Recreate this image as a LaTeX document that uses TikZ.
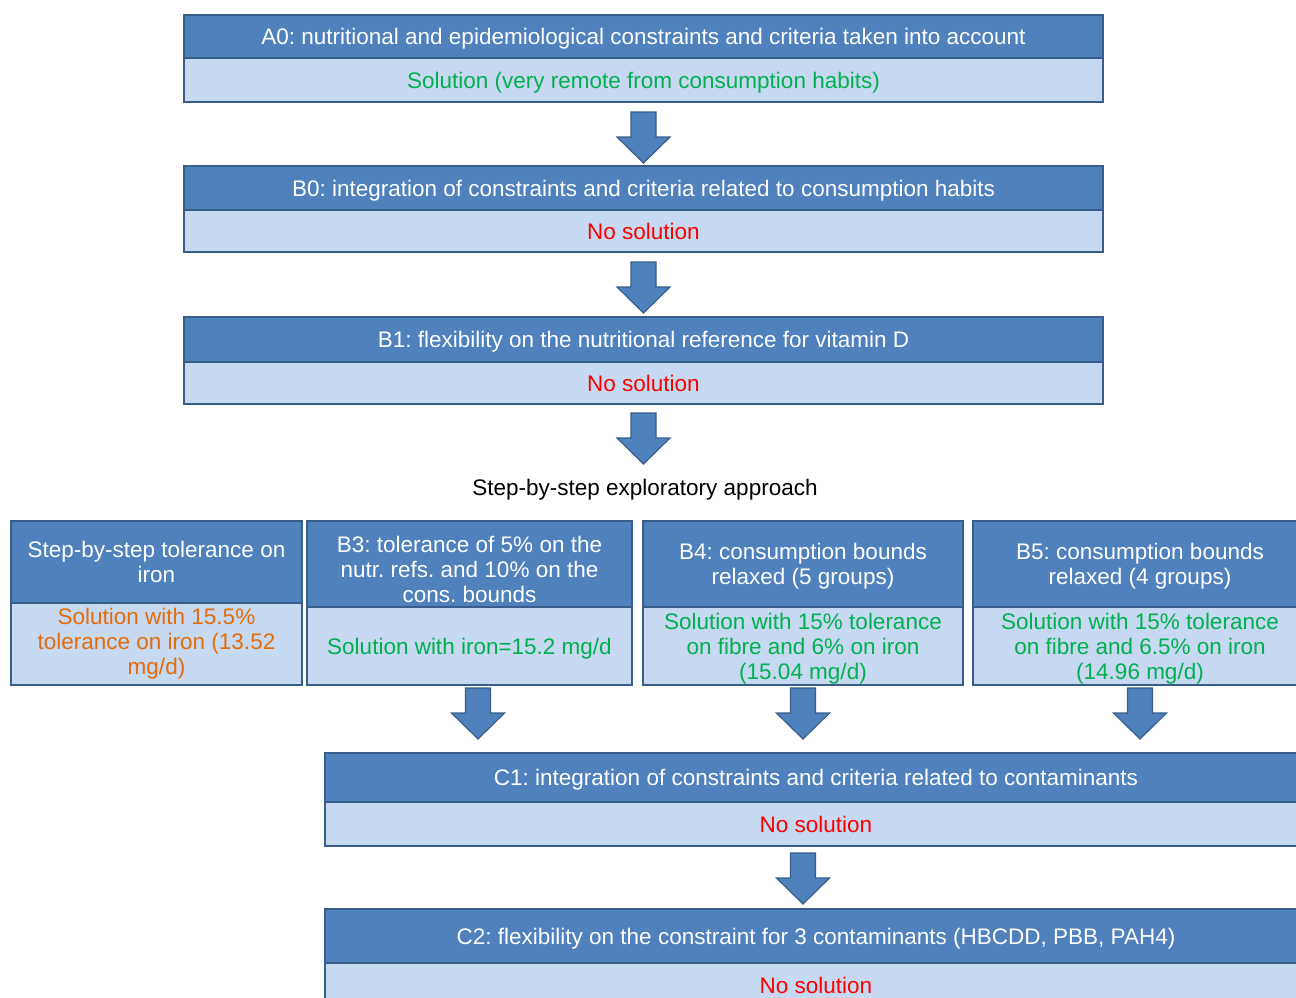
\documentclass[tikz,border=0pt]{standalone}
\usepackage{fontspec}
\setmainfont{Liberation Sans}
\usetikzlibrary{calc}
\definecolor{hdrfill}{HTML}{4F81BD}
\definecolor{bodyfill}{HTML}{C6D9F1}
\definecolor{boxline}{HTML}{385D8A}
\definecolor{okgreen}{HTML}{00B050}
\definecolor{nored}{HTML}{FF0000}
\definecolor{partorange}{HTML}{E46C0A}
\frenchspacing
\begin{document}
\begin{tikzpicture}[x=1pt,y=-1pt,
  every node/.style={font=\fontsize{22.5}{25}\selectfont, align=center, inner sep=0pt, outer sep=0pt},
  hdr/.style={draw=boxline, fill=hdrfill, line width=1.5pt, text=white, text depth=0pt, anchor=north west},
  body/.style={draw=boxline, fill=bodyfill, line width=1.5pt, anchor=north},
  frame/.style={draw=boxline, line width=2.5pt},
  blockarrow/.pic={
    \filldraw[fill=hdrfill, draw=boxline, line width=1.2pt, line join=miter]
      (-12.5,0) -- (12.5,0) -- (12.5,25) -- (26.5,25) -- (0,51)
      -- (-26.5,25) -- (-12.5,25) -- cycle;
  }
]
\useasboundingbox (0,0) rectangle (1296,998);
\clip (0,0) rectangle (1296,998);

% A0
\node[hdr, minimum width=919pt, minimum height=43pt] (A0h) at (184,15)
  {A0: nutritional and epidemiological constraints and criteria taken into account};
\node[body, minimum width=919pt, minimum height=44pt, text=okgreen, text depth=0pt] (A0b) at (A0h.south)
  {Solution (very remote from consumption habits)};
\draw[frame] (A0h.north west) rectangle (A0b.south east);

% B0
\node[hdr, minimum width=919pt, minimum height=44pt] (B0h) at (184,166)
  {B0: integration of constraints and criteria related to consumption habits};
\node[body, minimum width=919pt, minimum height=42pt, text=nored] (B0b) at (B0h.south)
  {No solution};
\draw[frame] (B0h.north west) rectangle (B0b.south east);

% B1
\node[hdr, minimum width=919pt, minimum height=45pt] (B1h) at (184,317)
  {B1: flexibility on the nutritional reference for vitamin D};
\node[body, minimum width=919pt, minimum height=42pt, text=nored] (B1b) at (B1h.south)
  {No solution};
\draw[frame] (B1h.north west) rectangle (B1b.south east);

\node (expl) at (645,490) {Step-by-step exploratory approach};

% iron tolerance
\node[hdr, minimum width=291pt, minimum height=82pt] (Fh) at (11,521)
  {Step-by-step tolerance on\\iron};
\node[body, minimum width=291pt, minimum height=82pt, text=partorange] (Fb) at (Fh.south)
  {Solution with 15.5\%\\tolerance on iron (13.52\\mg/d)};
\draw[frame] (Fh.north west) rectangle (Fb.south east);

% B3 (its three header lines sit low in the band)
\node[hdr, minimum width=325pt, minimum height=86pt] (B3h) at (307,521)
  {\rule{0pt}{27pt}B3: tolerance of 5\% on the\\nutr. refs. and 10\% on the\\cons. bounds};
\node[body, minimum width=325pt, minimum height=78pt, text=okgreen, text depth=0pt] (B3b) at (B3h.south)
  {Solution with iron=15.2 mg/d};
\draw[frame] (B3h.north west) rectangle (B3b.south east);

% B4
\node[hdr, minimum width=320pt, minimum height=86pt] (B4h) at (643,521)
  {B4: consumption bounds\\relaxed (5 groups)};
\node[body, minimum width=320pt, minimum height=78pt, text=okgreen, text depth=0pt] (B4b) at (B4h.south)
  {Solution with 15\% tolerance\\on fibre and 6\% on iron\\(15.04 mg/d)};
\draw[frame] (B4h.north west) rectangle (B4b.south east);

% B5
\node[hdr, minimum width=334pt, minimum height=86pt] (B5h) at (973,521)
  {B5: consumption bounds\\relaxed (4 groups)};
\node[body, minimum width=334pt, minimum height=78pt, text=okgreen, text depth=0pt] (B5b) at (B5h.south)
  {Solution with 15\% tolerance\\on fibre and 6.5\% on iron\\(14.96 mg/d)};
\draw[frame] (B5h.north west) rectangle (B5b.south east);

% C1
\node[hdr, minimum width=982pt, minimum height=49pt] (C1h) at (325,753)
  {C1: integration of constraints and criteria related to contaminants};
\node[body, minimum width=982pt, minimum height=44pt, text=nored] (C1b) at (C1h.south)
  {No solution};
\draw[frame] (C1h.north west) rectangle (C1b.south east);

% C2
\node[hdr, minimum width=982pt, minimum height=54pt] (C2h) at (325,909)
  {C2: flexibility on the constraint for 3 contaminants (HBCDD, PBB, PAH4)};
\node[body, minimum width=982pt, minimum height=44pt, text=nored] (C2b) at (C2h.south)
  {No solution};
\draw[frame] (C2h.north west) rectangle (C2b.south east);

% block arrows between the stages
\pic at ($(A0b.south)+(0,10)$) {blockarrow};
\pic at ($(B0b.south)+(0,10)$) {blockarrow};
\pic at ($(B1b.south)+(0,9)$) {blockarrow};
\pic at ($(B3b.south)+(8.5,3)$) {blockarrow};
\pic at ($(B4b.south)+(0,3)$) {blockarrow};
\pic at ($(B5b.south)+(0,3)$) {blockarrow};
\pic at ($(C1b.south)+(-13,7)$) {blockarrow};
\end{tikzpicture}
\end{document}
